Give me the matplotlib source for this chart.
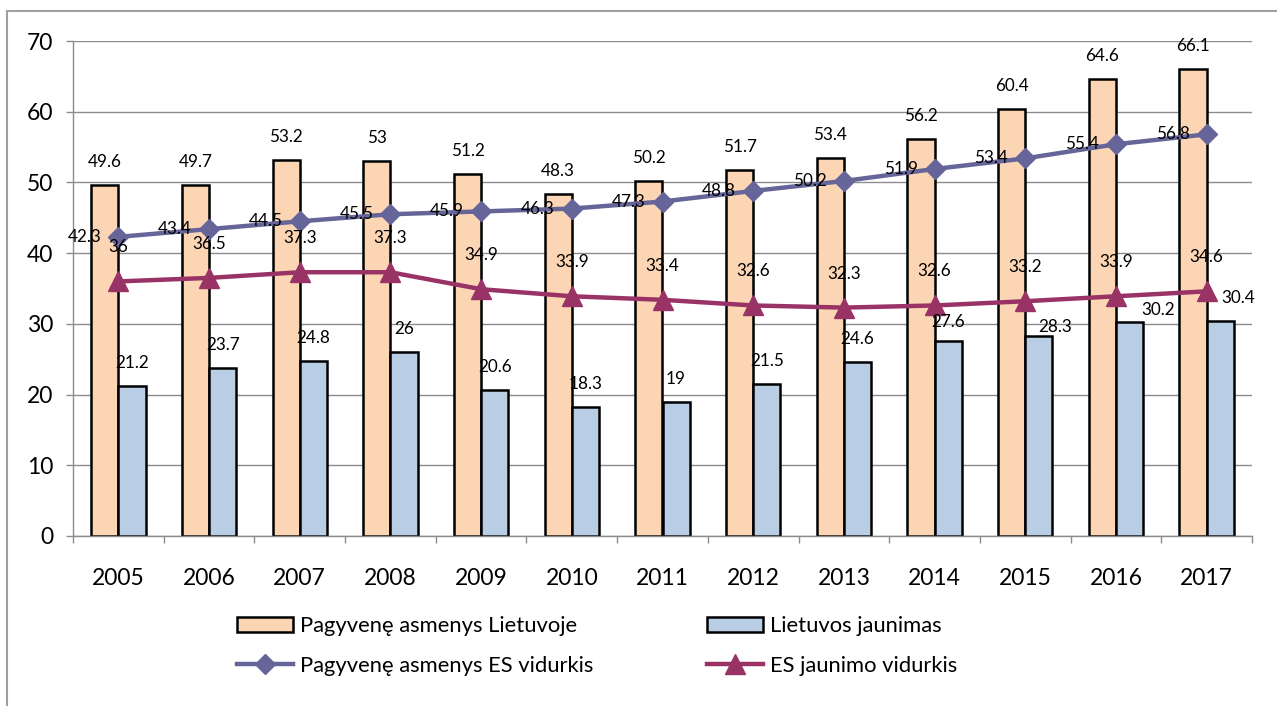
import matplotlib
matplotlib.use("Agg")
import matplotlib.pyplot as plt
from matplotlib.lines import Line2D
from matplotlib.patches import Patch
import numpy as np

years = ["2005", "2006", "2007", "2008", "2009", "2010", "2011",
         "2012", "2013", "2014", "2015", "2016", "2017"]
seniors_lt = [49.6, 49.7, 53.2, 53, 51.2, 48.3, 50.2, 51.7, 53.4, 56.2, 60.4, 64.6, 66.1]
youth_lt = [21.2, 23.7, 24.8, 26, 20.6, 18.3, 19, 21.5, 24.6, 27.6, 28.3, 30.2, 30.4]
seniors_eu = [42.3, 43.4, 44.5, 45.5, 45.9, 46.3, 47.3, 48.8, 50.2, 51.9, 53.4, 55.4, 56.8]
youth_eu = [36, 36.5, 37.3, 37.3, 34.9, 33.9, 33.4, 32.6, 32.3, 32.6, 33.2, 33.9, 34.6]
series_names = ["Pagyvenę asmenys Lietuvoje", "Lietuvos jaunimas",
                "Pagyvenę asmenys ES vidurkis", "ES jaunimo vidurkis"]

# label offsets (pixels) for the youth bars (some were moved by hand in the original)
youth_label_dx = [0, 0, 0, 0, 0, 0, 0, 0, 0, 0, 16, 29, 18]
youth_label_dy = [23, 23, 23, 23, 23, 23, 23, 23, 23, 19, 9, 12, 23]

FONT = ["Lato", "DejaVu Sans"]
plt.rcParams["font.family"] = FONT

W, H = 1277, 706
fig = plt.figure(figsize=(W / 100, H / 100), dpi=100)

L, R, B, T = 73, 1252, 536, 41
ax = fig.add_axes([L / W, (H - B) / H, (R - L) / W, (B - T) / H])

ORANGE = "#FCD5B5"
BLUE = "#B9CDE5"
PURPLE = "#65659A"
MAROON = "#993366"
GRID = "#8C8C8C"

x = np.arange(len(years))
bw = 0.30
ax.bar(x - bw / 2, seniors_lt, width=bw, color=ORANGE, edgecolor="black", linewidth=1.8, zorder=2)
ax.bar(x + bw / 2, youth_lt, width=bw, color=BLUE, edgecolor="black", linewidth=1.8, zorder=2)
ax.plot(x, seniors_eu, color=PURPLE, lw=3.2, marker="D", ms=10, zorder=3)
ax.plot(x, youth_eu, color=MAROON, lw=3.2, marker="^", ms=14, zorder=3)

ax.set_xlim(-0.5, len(years) - 0.5)
ax.set_ylim(0, 70)
ax.set_yticks(range(0, 71, 10))
ax.grid(axis="y", color=GRID, lw=1.0, zorder=0)
ax.set_axisbelow(True)
for s in ["top", "right"]:
    ax.spines[s].set_visible(False)
for s in ["left", "bottom"]:
    ax.spines[s].set_color(GRID)
    ax.spines[s].set_linewidth(1.0)

ax.set_xticks(x)
ax.set_xticklabels(years)
ax.set_xticks(np.arange(-0.5, len(years), 1.0), minor=True)
ax.tick_params(axis="x", which="major", length=0, pad=23, labelsize=16.5)
ax.tick_params(axis="x", which="minor", length=5, color=GRID, width=1.0)
ax.tick_params(axis="y", length=5, color=GRID, width=1.0, pad=9, labelsize=16.5)

lab_fs = 12.3
for i in range(len(years)):
    ax.annotate(f"{seniors_lt[i]:g}", (x[i] - bw / 2, seniors_lt[i]), xytext=(0, 23),
                textcoords="offset pixels", ha="center", va="center", fontsize=lab_fs, zorder=5)
    ax.annotate(f"{youth_lt[i]:g}", (x[i] + bw / 2, youth_lt[i]),
                xytext=(youth_label_dx[i], youth_label_dy[i]),
                textcoords="offset pixels", ha="center", va="center", fontsize=lab_fs, zorder=5)
    ax.annotate(f"{seniors_eu[i]:g}", (x[i], seniors_eu[i]), xytext=(-34, 0),
                textcoords="offset pixels", ha="center", va="center", fontsize=lab_fs, zorder=5)
    ax.annotate(f"{youth_eu[i]:g}", (x[i], youth_eu[i]), xytext=(0, 34),
                textcoords="offset pixels", ha="center", va="center", fontsize=lab_fs, zorder=5)

# legend
h_or = Patch(facecolor=ORANGE, edgecolor="black", linewidth=1.8)
h_bl = Patch(facecolor=BLUE, edgecolor="black", linewidth=1.8)
h_pu = Line2D([], [], color=PURPLE, lw=3.2, marker="D", ms=10)
h_ma = Line2D([], [], color=MAROON, lw=3.2, marker="^", ms=14)

leg_fs = 15.8
fs_px = leg_fs / 0.72
common = dict(frameon=False, fontsize=leg_fs, handlelength=56 / fs_px, handletextpad=7 / fs_px,
              labelspacing=0.9, borderpad=0, borderaxespad=0, loc="upper left", numpoints=1,
              handleheight=0.72)
leg1 = fig.legend([h_or, h_pu], [series_names[0], series_names[2]],
                  bbox_to_anchor=(237 / W, 1 - 616 / H), **common)
leg2 = fig.legend([h_bl, h_ma], [series_names[1], series_names[3]],
                  bbox_to_anchor=(707 / W, 1 - 616 / H), **common)

# chart frame (left and top edges visible)
fig.add_artist(Line2D([7 / W, 7 / W], [0, 1 - 11 / H], color="#A0A0A0", lw=1.5, transform=fig.transFigure))
fig.add_artist(Line2D([7 / W, 1], [1 - 11 / H, 1 - 11 / H], color="#A0A0A0", lw=1.5, transform=fig.transFigure))

fig.savefig("out.png", dpi=100)
